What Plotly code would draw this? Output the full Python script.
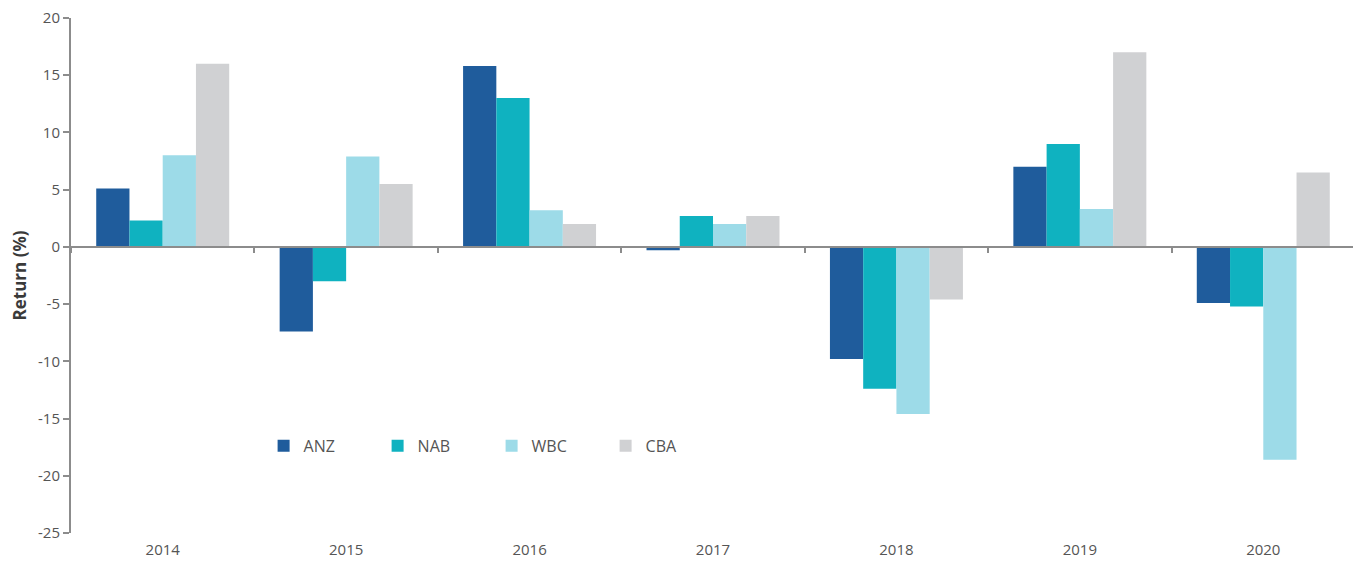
import plotly.graph_objects as go

years = ["2014", "2015", "2016", "2017", "2018", "2019", "2020"]
anz = [5.1, -7.4, 15.8, -0.3, -9.8, 7.0, -4.9]
nab = [2.3, -3.0, 13.0, 2.7, -12.4, 9.0, -5.2]
wbc = [8.0, 7.9, 3.2, 2.0, -14.6, 3.3, -18.6]
cba = [16.0, 5.5, 2.0, 2.7, -4.6, 17.0, 6.5]
y_ticks = [20, 15, 10, 5, 0, -5, -10, -15, -20, -25]
y_tick_labels = ["20", "15", "10", "5", "0", "-5", "-10", "-15", "-20", "-25"]

series = [("ANZ", anz, "#1F5C9C"), ("NAB", nab, "#0FB2C0"),
          ("WBC", wbc, "#9DDBE8"), ("CBA", cba, "#D0D1D3")]

fig = go.Figure()
for name, vals, col in series:
    fig.add_trace(go.Bar(x=years, y=vals, name=name, marker_color=col,
                         marker_line_width=0))

# invisible trace to carry the zero-level category axis
fig.add_trace(go.Scatter(x=years, y=[0]*len(years), xaxis="x2", mode="markers",
                         marker_opacity=0, showlegend=False, hoverinfo="skip"))

ymin, ymax = -25, 20
font_family = "Open Sans, Noto Sans, sans-serif"

fig.update_layout(
    width=1353, height=554,
    margin=dict(l=63, r=6, t=10, b=29, autoexpand=False),
    plot_bgcolor="white", paper_bgcolor="white",
    barmode="group", bargap=0.275, bargroupgap=0,
    font=dict(family=font_family, size=13, color="#555555"),
    xaxis=dict(type="category", showline=False, ticks="", showgrid=False,
               zeroline=False, automargin=False, ticklabelstandoff=6,
               ticklabeloverflow="allow",
               tickfont=dict(size=15, color="#555555")),
    xaxis2=dict(type="category", overlaying="x", matches="x", anchor="free",
                position=(0 - ymin) / (ymax - ymin), side="bottom",
                showline=True, linecolor="#8C8C8C", linewidth=2,
                ticks="outside", ticklen=5, tickwidth=2, tickcolor="#8C8C8C",
                tickson="boundaries", showticklabels=False, showgrid=False,
                zeroline=False, automargin=False),
    yaxis=dict(range=[ymin, ymax], tickvals=y_ticks, ticktext=y_tick_labels,
               showgrid=False, zeroline=False, automargin=False,
               ticklabeloverflow="allow",
               showline=True, linecolor="#8C8C8C", linewidth=2,
               ticks="outside", ticklen=6, tickwidth=2, tickcolor="#8C8C8C",
               tickfont=dict(size=15, color="#555555"),
               title=dict(text="<b>Return (%)</b>", standoff=12,
                          font=dict(size=17, color="#3A3A3A"))),
    legend=dict(orientation="h", x=0.150, y=0.169, xanchor="left",
                yanchor="middle", entrywidth=69, entrywidthmode="pixels",
                font=dict(size=16, color="#555555"), itemwidth=30,
                bgcolor="rgba(0,0,0,0)", traceorder="normal"),
)

fig.write_html("out.html")
